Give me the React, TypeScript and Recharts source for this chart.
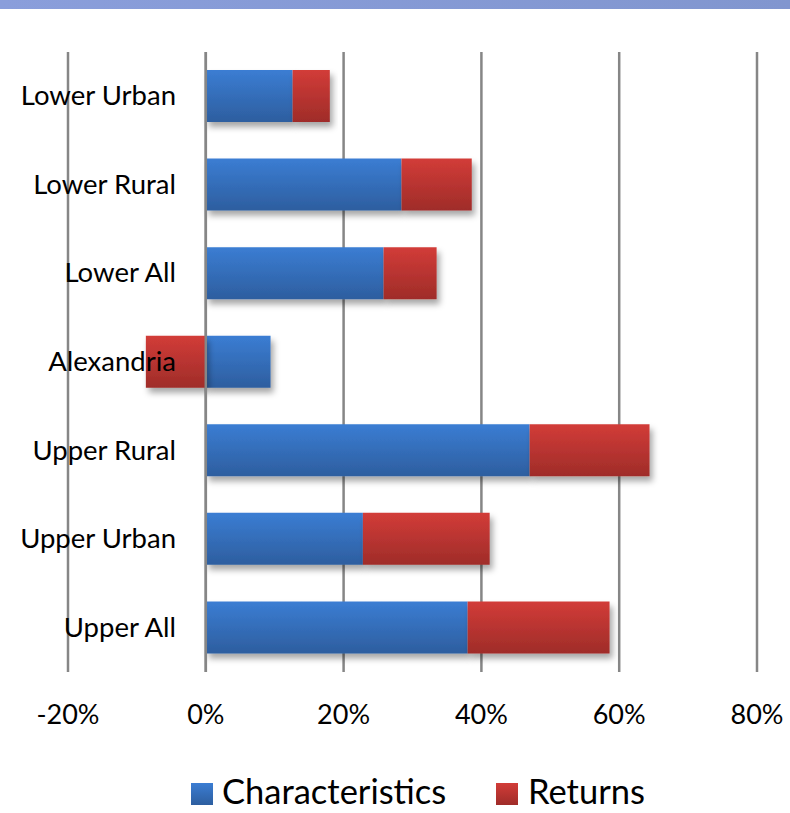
import React from 'react';
import { BarChart, Bar, XAxis, YAxis, CartesianGrid, ReferenceLine } from 'recharts';

const regions = ['Lower Urban', 'Lower Rural', 'Lower All', 'Alexandria', 'Upper Rural', 'Upper Urban', 'Upper All'];
const characteristics = [0.126, 0.284, 0.258, 0.094, 0.47, 0.228, 0.38];
const returns = [0.054, 0.102, 0.077, -0.087, 0.174, 0.184, 0.206];
const xTicks = [-0.2, 0, 0.2, 0.4, 0.6, 0.8];

const data = regions.map((region, i) => ({
  region,
  characteristics: characteristics[i],
  returns: returns[i],
}));

const FONT = 'Lato, "Noto Sans", sans-serif';

const formatPct = (v: number) => `${Math.round(v * 100)}%`;

const RegionTick = (props: any) => {
  const { y, payload } = props;
  return (
    <text x={176} y={y} dy={9} textAnchor="end" fontSize={27.5} fill="#000" fontFamily={FONT}>
      {payload.value}
    </text>
  );
};

const PctTick = (props: any) => {
  const { x, y, payload } = props;
  return (
    <text x={x} y={y} dy={44} textAnchor="middle" fontSize={27} fill="#000" fontFamily={FONT}>
      {formatPct(payload.value)}
    </text>
  );
};

const LegendStrip = () => (
  <svg width={790} height={43} style={{ position: 'absolute', left: 0, top: 770 }}>
    <defs>
      <linearGradient id="legBlue" x1="0" y1="0" x2="0" y2="1">
        <stop offset="0%" stopColor="#3b7dd3" />
        <stop offset="100%" stopColor="#2d5e9f" />
      </linearGradient>
      <linearGradient id="legRed" x1="0" y1="0" x2="0" y2="1">
        <stop offset="0%" stopColor="#d23c38" />
        <stop offset="100%" stopColor="#9f2c29" />
      </linearGradient>
    </defs>
    <rect x={191} y={13} width={22} height={22} fill="url(#legBlue)" />
    <text x={222} y={34} fontSize={34.5} fontFamily={FONT} fill="#000">Characteristics</text>
    <rect x={496} y={13} width={22} height={22} fill="url(#legRed)" />
    <text x={528} y={34} fontSize={34.5} fontFamily={FONT} fill="#000">Returns</text>
  </svg>
);

export default function App() {
  return (
    <div style={{ position: 'absolute', left: 0, top: 0, width: 790, height: 813, background: '#fff', fontFamily: FONT }}>
      <div
        style={{
          position: 'absolute',
          left: 0,
          top: 0,
          width: 790,
          height: 9,
          background: 'linear-gradient(to right, #8a9edb, #8196cf)',
        }}
      />
      <BarChart
        width={790}
        height={813}
        data={data}
        layout="vertical"
        stackOffset="sign"
        barSize={52}
        margin={{ top: 52, right: 33, left: 66, bottom: 81 }}
      >
        <defs>
          <linearGradient id="blueGrad" x1="0" y1="0" x2="0" y2="1">
            <stop offset="0%" stopColor="#3b7dd3" />
            <stop offset="100%" stopColor="#2d5e9f" />
          </linearGradient>
          <linearGradient id="redGrad" x1="0" y1="0" x2="0" y2="1">
            <stop offset="0%" stopColor="#d23c38" />
            <stop offset="100%" stopColor="#9f2c29" />
          </linearGradient>
          <filter id="barShadow" x="-10%" y="-20%" width="130%" height="160%">
            <feDropShadow dx="3" dy="5" stdDeviation="3" floodColor="#000" floodOpacity="0.35" />
          </filter>
        </defs>
        <CartesianGrid horizontal={false} stroke="#868686" strokeWidth={2.5} />
        <XAxis
          type="number"
          domain={[-0.2, 0.8]}
          ticks={xTicks}
          tick={<PctTick />}
          axisLine={false}
          tickLine={false}
          height={60}
        />
        <Bar
          dataKey="characteristics"
          stackId="a"
          fill="url(#blueGrad)"
          filter="url(#barShadow)"
          isAnimationActive={false}
        />
        <Bar
          dataKey="returns"
          stackId="a"
          fill="url(#redGrad)"
          filter="url(#barShadow)"
          isAnimationActive={false}
        />
        <ReferenceLine x={0} stroke="#868686" strokeWidth={2.5} />
        <YAxis
          type="category"
          dataKey="region"
          width={2}
          axisLine={false}
          tickLine={false}
          interval={0}
          tick={<RegionTick />}
        />
      </BarChart>
      <LegendStrip />
    </div>
  );
}
